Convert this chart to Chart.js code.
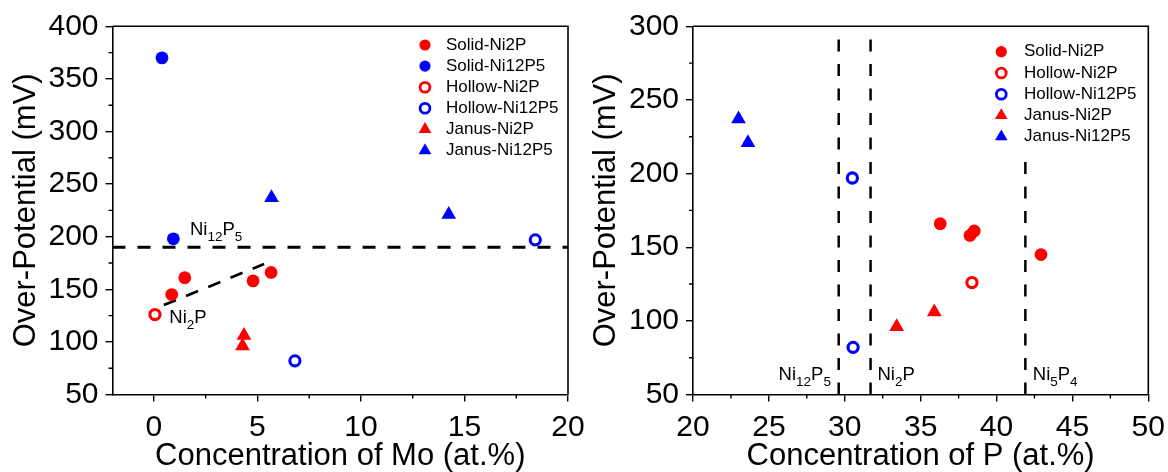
<!DOCTYPE html>
<html>
<head>
<meta charset="utf-8">
<title>Over-potential vs. composition</title>
<script src="https://cdn.jsdelivr.net/npm/chart.js@4.4.1/dist/chart.umd.min.js"></script>
<style>
  html, body { margin: 0; padding: 0; background: #fff; }
  #wrap { position: relative; width: 1168px; height: 472px; overflow: hidden; }
  .panel { position: absolute; top: 0; }
  #moPanel { left: 0; }
  #pPanel { left: 580px; }
</style>
</head>
<body>
<div id="wrap">
  <div class="panel" id="moPanel"><canvas id="moChart" width="588" height="472"></canvas></div>
  <div class="panel" id="pPanel"><canvas id="pChart" width="588" height="472"></canvas></div>
</div>
<script>
// over-potential (mV) of every sample, and its Mo / P content (at.%)
const solidNi2P_eta = [145, 161, 158, 166]
const solidNi2P_mo = [0.86, 1.49, 4.79, 5.66]
const solidNi2P_p = [42.93, 38.53, 38.25, 36.29]

const solidNi12P5_eta = [370, 198]
const solidNi12P5_mo = [0.39, 0.94]

const hollowNi2P_eta = [126]
const hollowNi2P_mo = [0.05]
const hollowNi2P_p = [38.38]

const hollowNi12P5_eta = [82, 197]
const hollowNi12P5_mo = [6.81, 18.42]
const hollowNi12P5_p = [30.55, 30.5]

const janusNi2P_eta = [106, 96]
const janusNi2P_mo = [4.35, 4.28]
const janusNi2P_p = [35.9, 33.42]

const janusNi12P5_eta = [237, 221]
const janusNi12P5_mo = [5.68, 14.24]
const janusNi12P5_p = [23.0, 23.62]

// guide lines
const ni12p5Level = 190                 // horizontal line, Mo panel
const ni2pTrendMo = [0.48, 5.32]        // Ni2P trend, Mo panel
const ni2pTrendEta = [135, 174]
const phaseLinesP = [29.6, 31.7, 41.9]  // Ni12P5 / Ni2P / Ni5P4 compositions
const phaseLineTop = [300, 300, 213]

// axis ranges and ticks
const moRange = [-2, 20], moStep = 5
const pRange = [20, 50], pStep = 5
const etaRangeMo = [50, 400], etaRangeP = [50, 300], etaStep = 50

const RED = "#ff0000"
const BLUE = "#0000ff"
const FONT = "'Liberation Sans', Arial, Helvetica, sans-serif"

function pairs(xs, ys) {
  return xs.map((x, i) => ({ x: x, y: ys[i] }))
}

function markerSet(label, xs, ys, color, marker) {
  const set = {
    label: label,
    marker: marker,
    color: color,
    data: pairs(xs, ys),
    borderColor: color,
    backgroundColor: color,
    pointBorderColor: color,
    pointHoverRadius: 6
  }
  if (marker === "filled") {
    Object.assign(set, { pointStyle: "circle", pointRadius: 6.4, pointBorderWidth: 0, pointBackgroundColor: color })
  } else if (marker === "hollow") {
    Object.assign(set, { pointStyle: "circle", pointRadius: 5.1, pointBorderWidth: 3.1, pointBackgroundColor: "#ffffff" })
  } else {
    Object.assign(set, { pointStyle: "triangle", pointRadius: 8.5, pointBorderWidth: 0, pointBackgroundColor: color })
  }
  return set
}

function dashedLine(xs, ys, width, dash) {
  return {
    data: pairs(xs, ys),
    showLine: true,
    borderColor: "#000",
    borderWidth: width,
    borderDash: dash,
    pointRadius: 0,
    pointHoverRadius: 0,
    fill: false
  }
}

// top/right frame and the short minor ticks
const frameTicks = {
  id: "frameTicks",
  afterDatasetsDraw(chart, args, opts) {
    const { ctx, chartArea: a, scales: { x, y } } = chart
    ctx.save()
    ctx.strokeStyle = "#000"
    ctx.lineWidth = 1.6
    ctx.beginPath()
    ctx.moveTo(a.left, a.top)
    ctx.lineTo(a.right, a.top)
    ctx.lineTo(a.right, a.bottom)
    ctx.stroke()

    ctx.lineWidth = 1.4
    ctx.beginPath()
    const minor = (scale, step) => {
      const out = []
      for (let v = Math.ceil(scale.min / step) * step; v <= scale.max + 1e-9; v += step) {
        const k = v / (step * 2)
        if (Math.abs(k - Math.round(k)) > 1e-6) out.push(v)
      }
      return out
    }
    minor(x, opts.xMinor).forEach((v) => {
      const px = x.getPixelForValue(v)
      ctx.moveTo(px, a.bottom)
      ctx.lineTo(px, a.bottom + 4)
    })
    minor(y, opts.yMinor).forEach((v) => {
      const py = y.getPixelForValue(v)
      ctx.moveTo(a.left, py)
      ctx.lineTo(a.left - 4, py)
    })
    ctx.stroke()
    ctx.restore()
  }
}

// legend inside the plot, one row per marker series
const panelLegend = {
  id: "panelLegend",
  afterDraw(chart, args, opts) {
    const { ctx } = chart
    const sizes = {
      filled: { pointStyle: "circle", radius: 5.6, borderWidth: 0 },
      hollow: { pointStyle: "circle", radius: 4.9, borderWidth: 2.8 },
      triangle: { pointStyle: "triangle", radius: 7.3, borderWidth: 0 }
    }
    ctx.save()
    let row = 0
    chart.data.datasets.forEach((ds) => {
      if (!ds.marker) return
      const y = opts.top + row * opts.step
      const sym = sizes[ds.marker]
      ctx.fillStyle = ds.marker === "hollow" ? "#ffffff" : ds.color
      ctx.strokeStyle = ds.color
      ctx.lineWidth = sym.borderWidth
      Chart.helpers.drawPoint(ctx, { pointStyle: sym.pointStyle, radius: sym.radius, borderWidth: sym.borderWidth, rotation: 0 }, opts.textX - opts.gap, y)
      ctx.fillStyle = "#000"
      ctx.font = "17px " + FONT
      ctx.textAlign = "left"
      ctx.textBaseline = "middle"
      ctx.fillText(ds.label, opts.textX, y)
      row++
    })
    ctx.restore()
  }
}

// phase names with subscripts, e.g. "Ni_{12}P_{5}"
const formulaLabels = {
  id: "formulaLabels",
  afterDraw(chart, args, opts) {
    const { ctx, scales: { x, y } } = chart
    ctx.save()
    ctx.fillStyle = "#000"
    ctx.textAlign = "left"
    ctx.textBaseline = "alphabetic"
    opts.texts.forEach((text, i) => {
      let cx = x.getPixelForValue(opts.xs[i]) - 1.4
      const by = y.getPixelForValue(opts.ys[i])
      text.split(/(_\{[^}]*\})/).filter(Boolean).forEach((part) => {
        const sub = part.startsWith("_{")
        const t = sub ? part.slice(2, -1) : part
        ctx.font = (sub ? "13.5px " : "18.5px ") + FONT
        ctx.fillText(t, cx, sub ? by + 5.5 : by)
        cx += ctx.measureText(t).width
      })
    })
    ctx.restore()
  }
}

function axis(range, step, title, isY, size) {
  return {
    type: "linear",
    position: isY ? "left" : "bottom",
    min: range[0],
    max: range[1],
    ticks: {
      stepSize: step,
      includeBounds: false,
      autoSkip: false,
      maxRotation: 0,
      padding: isY ? 7 : 8,
      color: "#000",
      font: { family: FONT, size: 30 }
    },
    grid: { drawOnChartArea: false, drawTicks: true, tickLength: 7, color: "#000", lineWidth: 1.4 },
    border: { display: true, color: "#000", width: 1.6 },
    title: {
      display: true,
      text: title,
      color: "#000",
      font: { family: FONT, size: 31, lineHeight: 1 },
      padding: isY ? { top: 11, bottom: 0 } : { top: 0, bottom: 0 }
    },
    afterFit(scale) {
      if (isY) scale.width = size
      else scale.height = size
      scale.paddingLeft = 0
      scale.paddingRight = 0
      scale.paddingTop = 0
      scale.paddingBottom = 0
    }
  }
}

function panel(canvasId, datasets, xAxis, yAxis, padRight, legend, labels) {
  return new Chart(document.getElementById(canvasId), {
    type: "scatter",
    data: { datasets: datasets },
    options: {
      responsive: false,
      animation: false,
      layout: { padding: { top: 26.3, right: padRight, left: 0, bottom: 0 } },
      scales: { x: xAxis, y: yAxis },
      plugins: {
        legend: { display: false },
        tooltip: { enabled: false },
        frameTicks: { xMinor: 2.5, yMinor: 25 },
        panelLegend: legend,
        formulaLabels: labels
      }
    },
    plugins: [frameTicks, panelLegend, formulaLabels]
  })
}

// Mo panel
const moSets = [
  markerSet("Solid-Ni2P", solidNi2P_mo, solidNi2P_eta, RED, "filled"),
  markerSet("Solid-Ni12P5", solidNi12P5_mo, solidNi12P5_eta, BLUE, "filled"),
  markerSet("Hollow-Ni2P", hollowNi2P_mo, hollowNi2P_eta, RED, "hollow"),
  markerSet("Hollow-Ni12P5", hollowNi12P5_mo, hollowNi12P5_eta, BLUE, "hollow"),
  markerSet("Janus-Ni2P", janusNi2P_mo, janusNi2P_eta, RED, "triangle"),
  markerSet("Janus-Ni12P5", janusNi12P5_mo, janusNi12P5_eta, BLUE, "triangle"),
  dashedLine(ni2pTrendMo, ni2pTrendEta, 2.7, [13, 11]),
  dashedLine(moRange, [ni12p5Level, ni12p5Level], 2.9, [13, 12])
]

panel("moChart", moSets,
  axis(moRange, moStep, "Concentration of Mo (at.%)", false, 77.5),
  axis(etaRangeMo, etaStep, "Over-Potential (mV)", true, 112.5),
  20,
  { textX: 446, top: 45, step: 21.1, gap: 21 },
  { texts: ["Ni_{12}P_{5}", "Ni_{2}P"], xs: [1.81, 0.81], ys: [201.6, 117.7] }
)

// P panel
const pSets = [
  markerSet("Solid-Ni2P", solidNi2P_p, solidNi2P_eta, RED, "filled"),
  markerSet("Hollow-Ni2P", hollowNi2P_p, hollowNi2P_eta, RED, "hollow"),
  markerSet("Hollow-Ni12P5", hollowNi12P5_p, hollowNi12P5_eta, BLUE, "hollow"),
  markerSet("Janus-Ni2P", janusNi2P_p, janusNi2P_eta, RED, "triangle"),
  markerSet("Janus-Ni12P5", janusNi12P5_p, janusNi12P5_eta, BLUE, "triangle")
].concat(phaseLinesP.map((p, i) => dashedLine([p, p], [etaRangeP[0], phaseLineTop[i]], 2.5, [12, 12.5])))

panel("pChart", pSets,
  axis(pRange, pStep, "Concentration of P (at.%)", false, 77.5),
  axis(etaRangeP, etaStep, "Over-Potential (mV)", true, 113),
  19.7,
  { textX: 444, top: 51.7, step: 21.25, gap: 22.7 },
  { texts: ["Ni_{12}P_{5}", "Ni_{2}P", "Ni_{5}P_{4}"], xs: [25.73, 32.25, 42.48], ys: [59.8, 59.8, 59.8] }
)
</script>
</body>
</html>
